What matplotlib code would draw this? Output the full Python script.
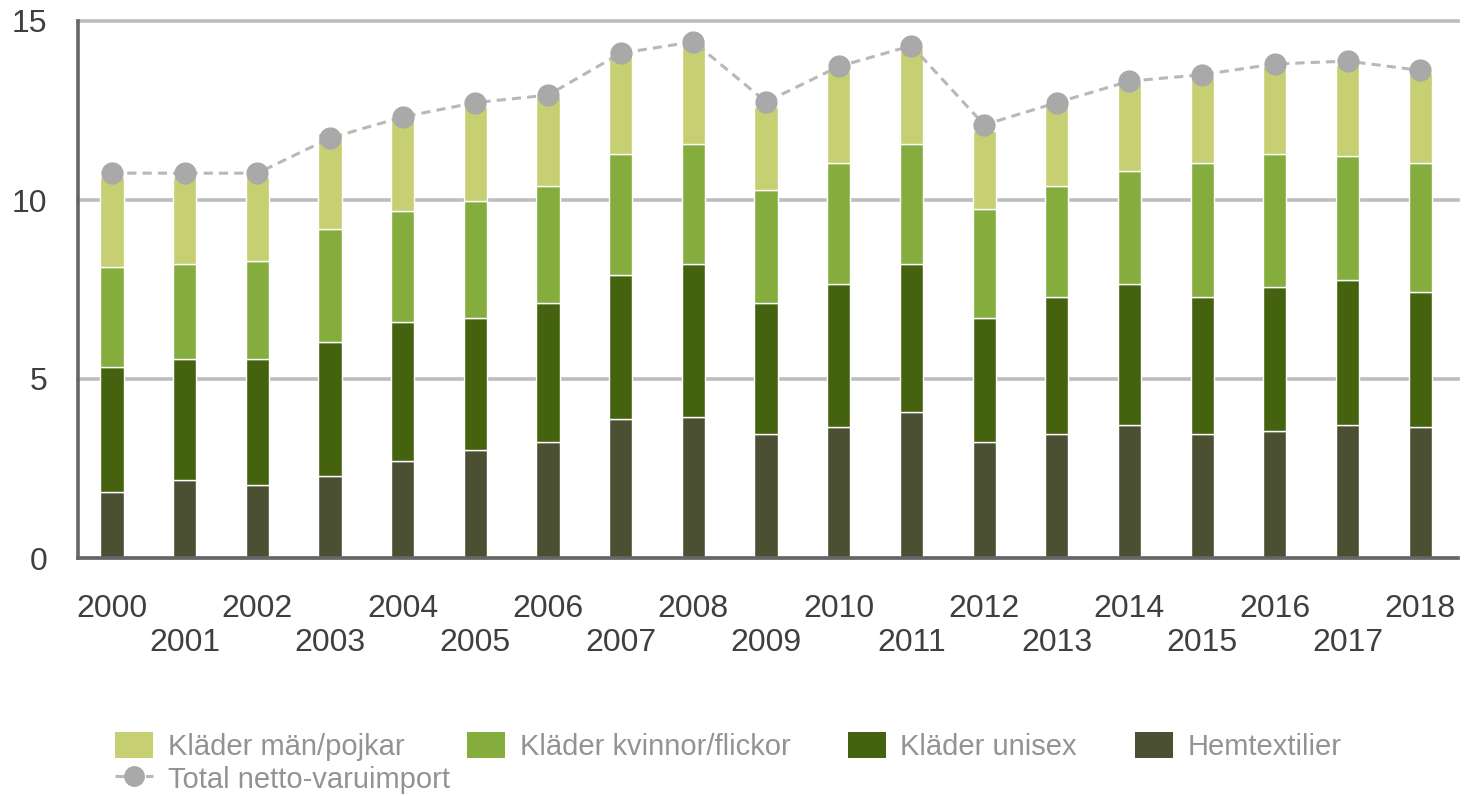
import matplotlib
matplotlib.use("Agg")
import matplotlib.pyplot as plt
from matplotlib.patches import Patch
from matplotlib.lines import Line2D
import numpy as np

plt.rcParams['font.family'] = ['Liberation Sans', 'DejaVu Sans']

years = [str(y) for y in range(2000, 2019)]

hemtextilier = [1.83, 2.18, 2.04, 2.28, 2.72, 3.03, 3.25, 3.87, 3.93, 3.45,
                3.65, 4.08, 3.25, 3.46, 3.71, 3.46, 3.56, 3.71, 3.67]
unisex = [3.51, 3.37, 3.51, 3.74, 3.88, 3.67, 3.87, 4.03, 4.27, 3.67,
          4.01, 4.12, 3.45, 3.82, 3.95, 3.82, 4.01, 4.05, 3.76]
kvinnor = [2.78, 2.65, 2.75, 3.18, 3.08, 3.27, 3.27, 3.39, 3.36, 3.17,
           3.38, 3.36, 3.06, 3.12, 3.14, 3.75, 3.71, 3.47, 3.60]
man = [2.53, 2.45, 2.35, 2.68, 2.57, 2.63, 2.50, 2.75, 2.82, 2.31,
       2.56, 2.66, 2.18, 2.30, 2.50, 2.41, 2.47, 2.55, 2.53]
total = [10.75, 10.75, 10.75, 11.73, 12.32, 12.72, 12.93, 14.10, 14.42, 12.74,
         13.73, 14.31, 12.10, 12.72, 13.32, 13.50, 13.80, 13.88, 13.62]

labels = ["Kläder män/pojkar", "Kläder kvinnor/flickor", "Kläder unisex",
          "Hemtextilier", "Total netto-varuimport"]

c_man = "#c7cf73"
c_kv = "#84ad3d"
c_uni = "#45620f"
c_hem = "#4b5033"
c_tot = "#a9a9a9"

fig = plt.figure(figsize=(14.64, 7.96), dpi=100)
ax = fig.add_axes([78/1464, 1-558/796, (1458-78)/1464, (558-21)/796])

x = np.arange(len(years))
w = 0.32
b1 = np.array(hemtextilier)
b2 = b1 + np.array(unisex)
b3 = b2 + np.array(kvinnor)
ax.bar(x, hemtextilier, w, color=c_hem, edgecolor="white", linewidth=1, zorder=2)
ax.bar(x, unisex, w, bottom=b1, color=c_uni, edgecolor="white", linewidth=1, zorder=2)
ax.bar(x, kvinnor, w, bottom=b2, color=c_kv, edgecolor="white", linewidth=1, zorder=2)
ax.bar(x, man, w, bottom=b3, color=c_man, edgecolor="white", linewidth=1, zorder=2)

ax.plot(x, total, color="#b8b8b8", lw=2.2, linestyle=(0, (3, 2)), zorder=3)
ax.plot(x, total, linestyle="none", marker="o", markersize=15,
        color=c_tot, zorder=4)

ax.set_xlim(-0.468, 18.52)
ax.set_ylim(0, 15)
ax.set_yticks([0, 5, 10, 15])
ax.set_yticklabels(["0", "5", "10", "15"])
ax.yaxis.grid(True, color="#bdbdbd", linewidth=2.6)
ax.set_axisbelow(True)
for gl in ax.get_ygridlines():
    gl.set_clip_on(False)

ax.set_xticks(x)
xl = [y if i % 2 == 0 else "\n" + y for i, y in enumerate(years)]
ax.set_xticklabels(xl)
for t in ax.get_xticklabels():
    t.set_linespacing(1.15)

ax.tick_params(axis="both", length=0, labelsize=23, colors="#3f3f3f")
ax.tick_params(axis="x", pad=26)
ax.tick_params(axis="y", pad=22)

for s in ["top", "right"]:
    ax.spines[s].set_visible(False)
for s in ["left", "bottom"]:
    ax.spines[s].set_color("#666666")
    ax.spines[s].set_linewidth(2.6)
    ax.spines[s].set_zorder(5)

# legend
h_man = Patch(facecolor=c_man, edgecolor="none")
h_kv = Patch(facecolor=c_kv, edgecolor="none")
h_uni = Patch(facecolor=c_uni, edgecolor="none")
h_hem = Patch(facecolor=c_hem, edgecolor="none")
h_tot = Line2D([], [], color="#b8b8b8", lw=2.2, linestyle=(0, (3, 2)),
               marker="o", markersize=14, markerfacecolor=c_tot,
               markeredgecolor=c_tot)

common = dict(loc="upper left", frameon=False, borderpad=0, borderaxespad=0,
              handlelength=1.3, handleheight=1.0, handletextpad=0.5,
              labelspacing=0.12, fontsize=21, labelcolor="#939393")
ytop = 1 - 732/796
fig.legend([h_man, h_tot], [labels[0], labels[4]],
           bbox_to_anchor=(115/1464, ytop), **common)
fig.legend([h_kv], [labels[1]], bbox_to_anchor=(467/1464, ytop), **common)
fig.legend([h_uni], [labels[2]], bbox_to_anchor=(848/1464, ytop), **common)
fig.legend([h_hem], [labels[3]], bbox_to_anchor=(1135/1464, ytop), **common)

fig.savefig("out.png", dpi=100)
